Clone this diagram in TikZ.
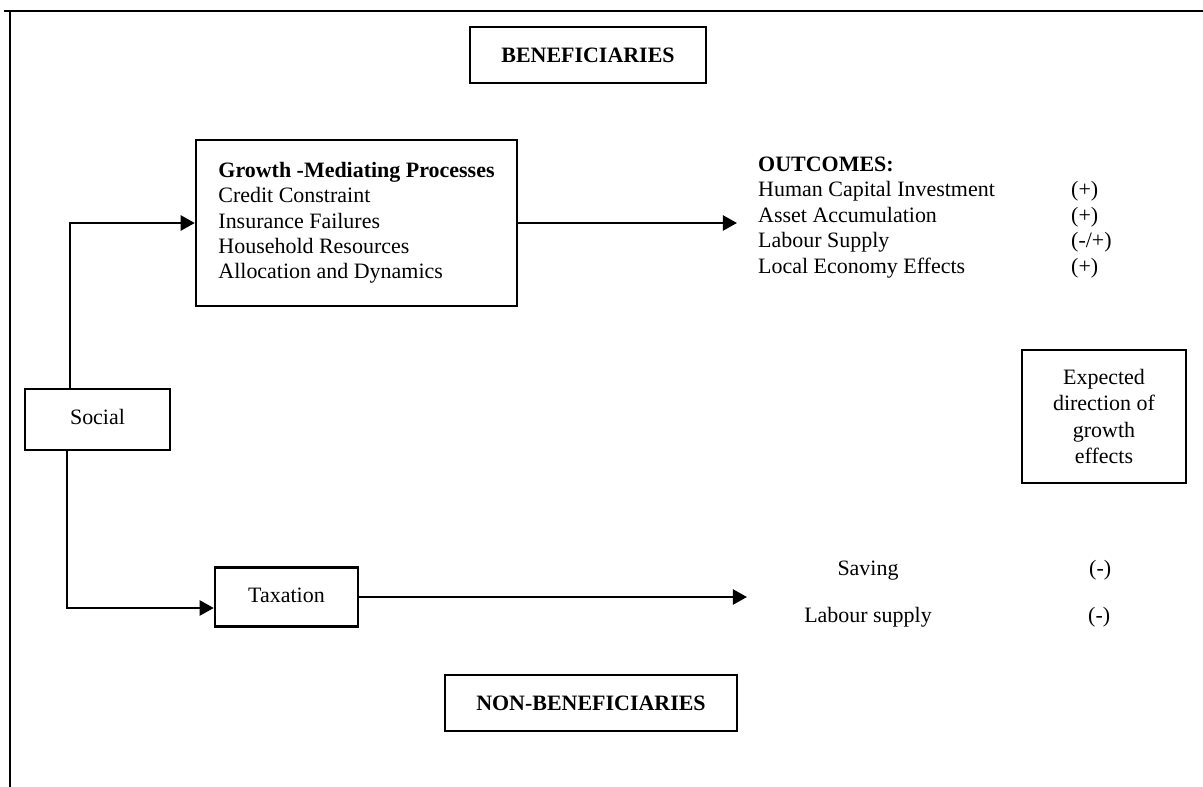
\documentclass[tikz,border=0pt]{standalone}
\usepackage{fontspec}
\setmainfont{Liberation Serif}
\usepackage{tikz}
\usetikzlibrary{arrows.meta}

\begin{document}
\begin{tikzpicture}[x=0.02cm, y=-0.02cm, line width=1.4pt,
  box/.style={draw, line width=1.4pt, inner sep=0pt, font=\fontsize{12.5}{14.4}\selectfont},
  txt/.style={inner sep=0pt, font=\fontsize{12.5}{14.4}\selectfont},
  arr/.style={-{Triangle[length=8pt,width=8.5pt]}, line width=1.4pt}]
\useasboundingbox (0,0) rectangle (1203,787);
\draw[line width=1.3pt] (4,11) -- (1203,11); %frame
\draw[line width=1.1pt] (10,11) -- (10,787);
\node[box, minimum width=4.72cm, minimum height=1.12cm, font=\fontsize{12.5}{14.4}\selectfont\bfseries] (benef) at (588,55) {BENEFICIARIES};
\node[box, minimum width=5.84cm, minimum height=1.12cm, font=\fontsize{12.5}{14.4}\selectfont\bfseries] (nonbenef) at (591,703) {NON-BENEFICIARIES};
\node[box, minimum width=6.42cm, minimum height=3.32cm, align=left] (growth) at (356.5,223) {\textbf{Growth -Mediating Processes}\\Credit Constraint\\Insurance Failures\\Household Resources\\Allocation and Dynamics};
\node[box, minimum width=2.9cm, minimum height=1.22cm] (social) at (97.5,419.5) {\raisebox{3pt}{Social}};
\node[box, minimum width=2.86cm, minimum height=1.18cm] (taxation) at (286.5,597) {\raisebox{2pt}{Taxation}};
\node[box, minimum width=3.28cm, minimum height=2.66cm, align=center, font=\fontsize{12.5}{15.1}\selectfont] (expected) at (1104,416.5) {Expected\\direction of\\growth\\effects};
% outcomes
\node[txt, anchor=base west, font=\fontsize{12.5}{14.4}\selectfont\bfseries] (outcomes) at (757,172) {OUTCOMES:};
\foreach \t/\s/\y [count=\i] in {Human Capital Investment/(+)/197, Asset Accumulation/(+)/223, Labour Supply/{(-/+)}/248, Local Economy Effects/(+)/274} {
  \node[txt, anchor=base west] (out\i) at (757,\y) {\t};
  \node[txt, anchor=base west] (outsign\i) at (1070,\y) {\s};
}
\node[txt, anchor=base] (saving) at (868,575) {Saving};
\node[txt, anchor=base west] (savingsign) at (1088,575) {(-)};
\node[txt, anchor=base] (labour) at (868,622) {Labour supply};
\node[txt, anchor=base west] (laboursign) at (1087,622) {(-)};
% arrows
\coordinate (growthend) at (737,223);
\coordinate (taxend) at (747,597);
\draw[arr] ([xshift=-0.55cm]social.north) |- (growth.west);
\draw[arr] ([xshift=-0.61cm]social.south) |- ([yshift=-0.22cm]taxation.west);
\draw[arr] (growth.east) -- (growthend);
\draw[arr] (taxation.east) -- (taxation.east -| taxend);
\end{tikzpicture}
\end{document}
